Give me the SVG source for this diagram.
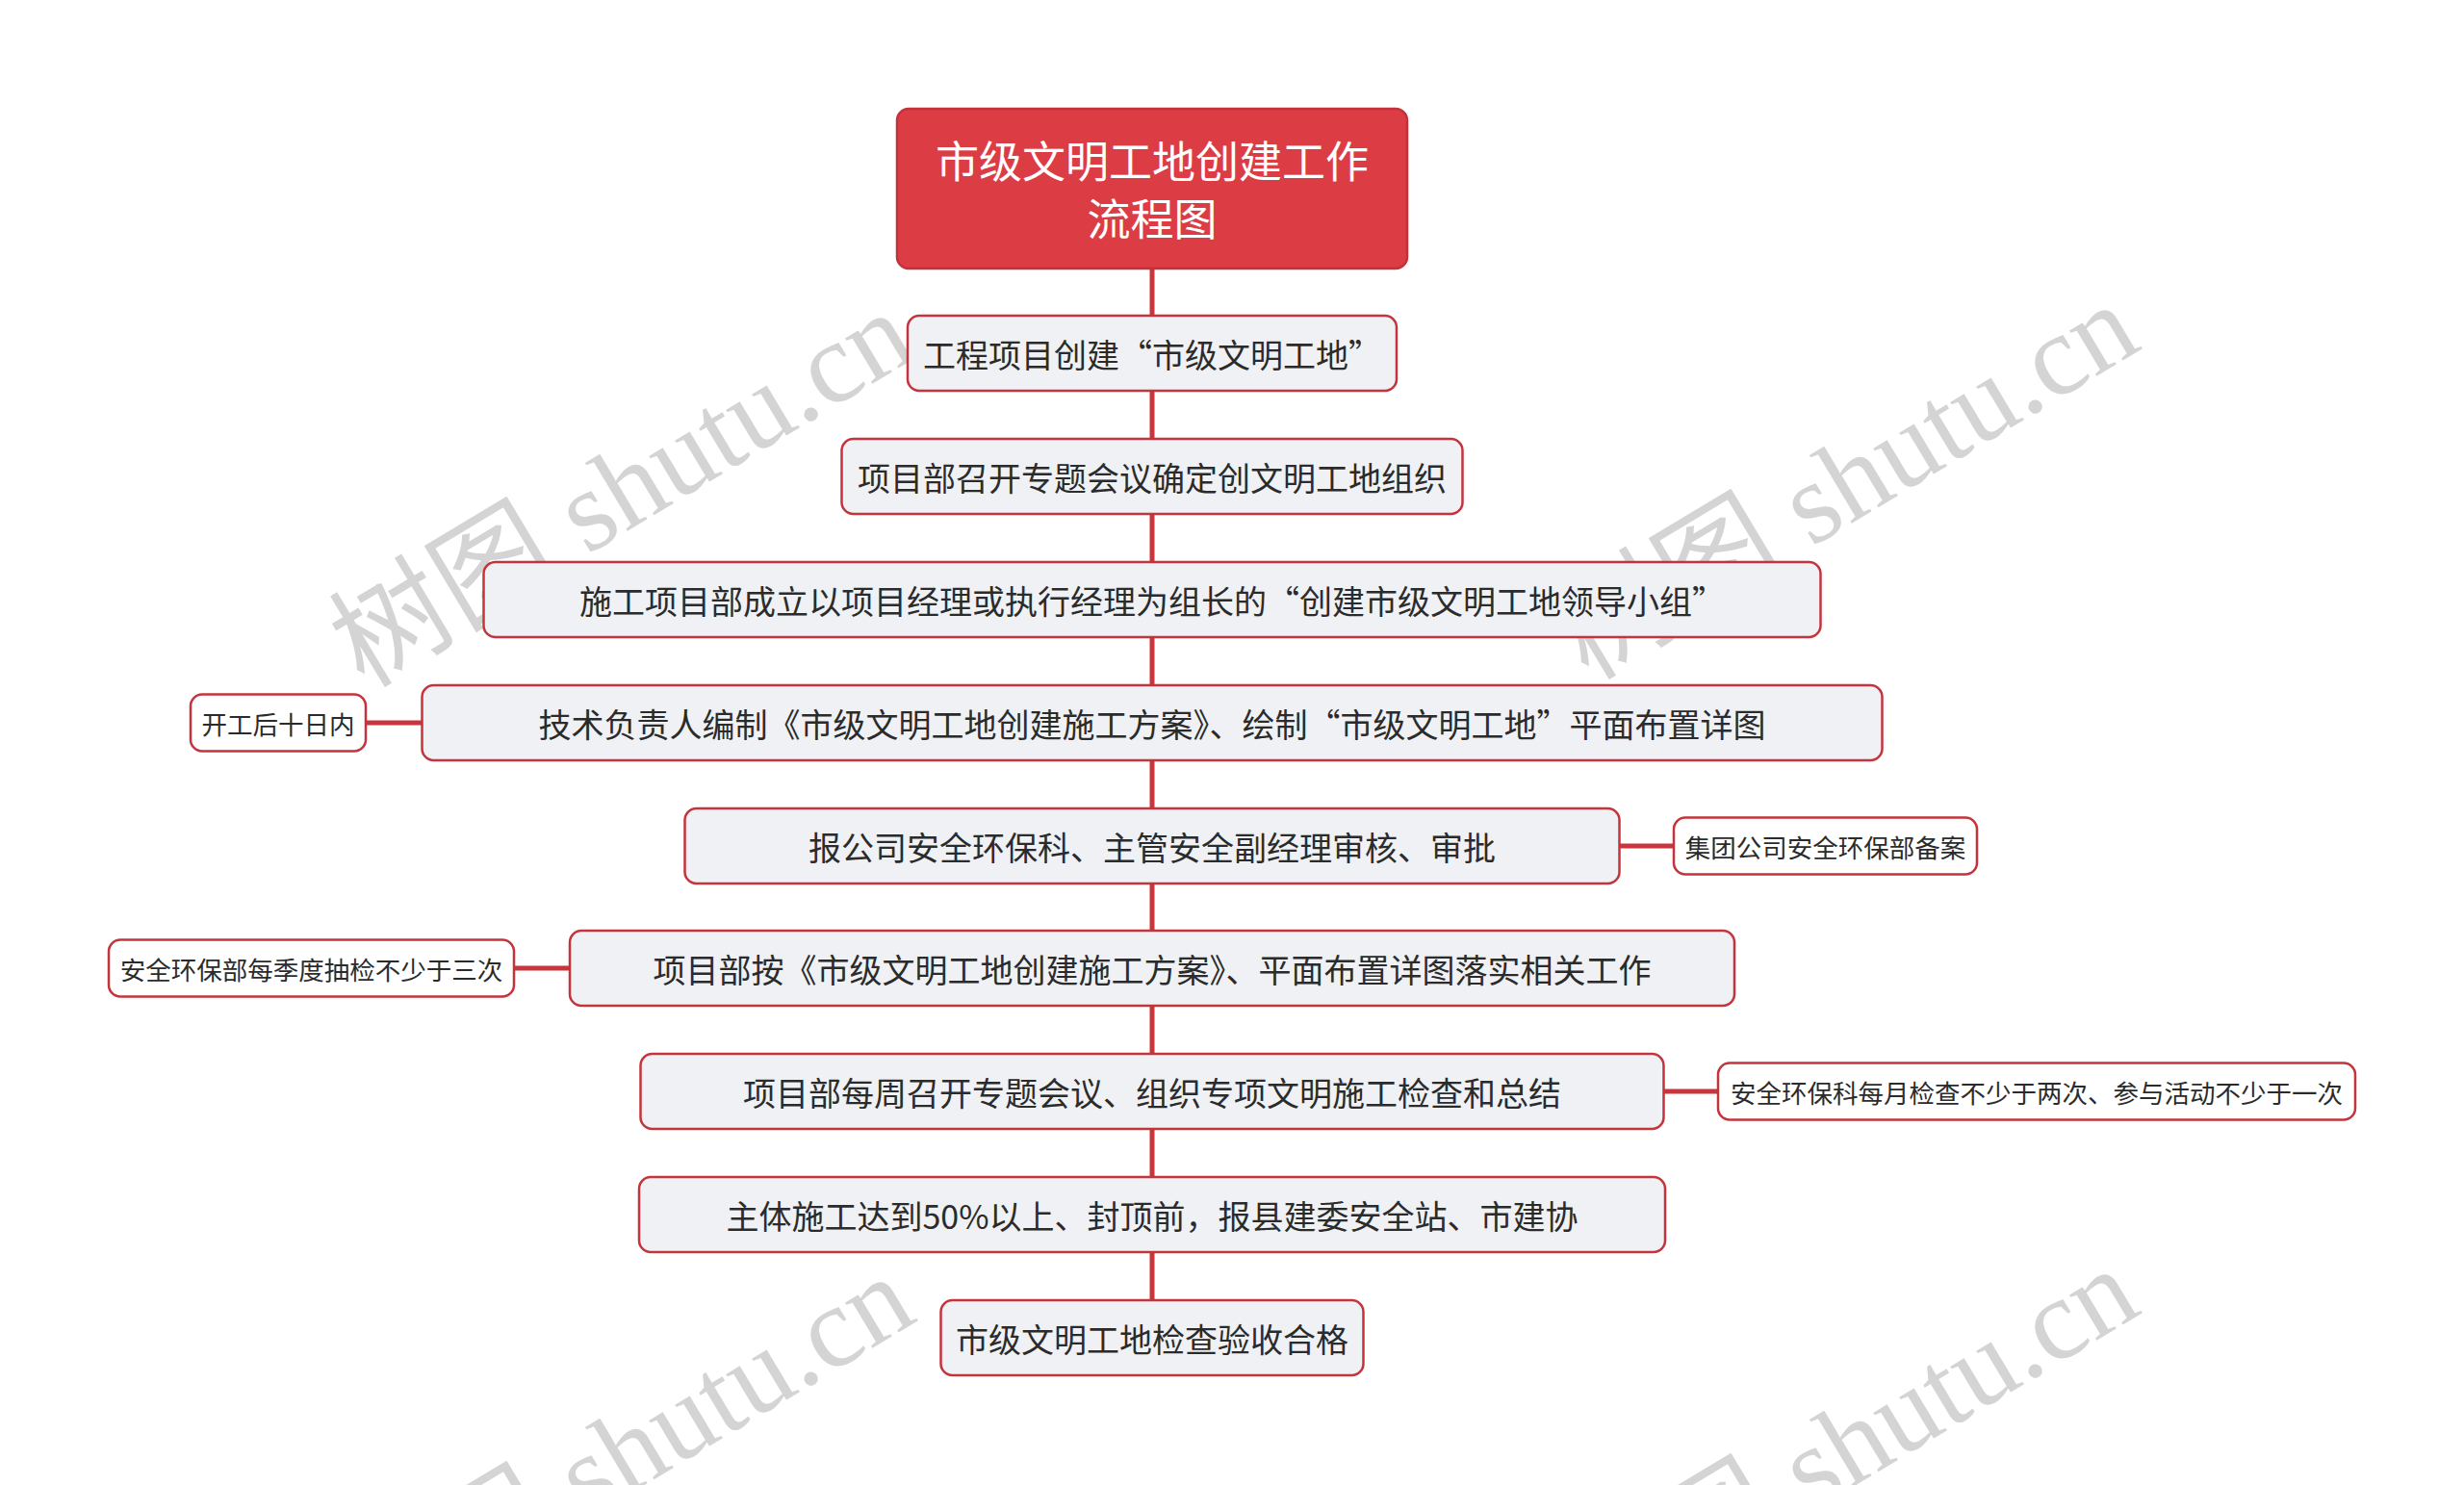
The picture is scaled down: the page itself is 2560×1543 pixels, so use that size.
<svg xmlns="http://www.w3.org/2000/svg" width="2560" height="1543" viewBox="0 0 2560 1543">
<style>
.bg{fill:#ffffff}
.wm{font-family:"Liberation Serif","Noto Sans CJK SC",serif;font-size:120px;fill:#d4d4d4}
.root rect{fill:#dc3d45;stroke:#c3323a;stroke-width:2.5}
.root text{font-family:"Noto Sans CJK SC","Noto Sans",sans-serif;font-size:45px;fill:#ffffff;text-anchor:middle;dominant-baseline:central}
.main rect{fill:#eff1f4;stroke:#c4343c;stroke-width:2.5}
.main text{font-family:"Noto Sans CJK SC","Noto Sans",sans-serif;font-size:34px;fill:#2b2b2b;text-anchor:middle;dominant-baseline:central}
.side rect{fill:#ffffff;stroke:#c4343c;stroke-width:2.5}
.side text{font-family:"Noto Sans CJK SC","Noto Sans",sans-serif;font-size:26.5px;fill:#2b2b2b;text-anchor:middle;dominant-baseline:central}
.conn{stroke:#c9353d;stroke-width:5;fill:none}
</style>
<rect class="bg" x="0" y="0" width="2560" height="1543"/>
<g id="watermarks">
<text class="wm" transform="translate(646,508) rotate(-31)" text-anchor="middle" dominant-baseline="central">树图 shutu.cn</text>
<text class="wm" transform="translate(1918,500) rotate(-31)" text-anchor="middle" dominant-baseline="central">树图 shutu.cn</text>
<text class="wm" transform="translate(646,1510) rotate(-31)" text-anchor="middle" dominant-baseline="central">树图 shutu.cn</text>
<text class="wm" transform="translate(1918,1502) rotate(-31)" text-anchor="middle" dominant-baseline="central">树图 shutu.cn</text>
</g>
<g id="connectors">
<line class="conn" x1="1197" y1="279" x2="1197" y2="1351"/>
<line class="conn" x1="380" y1="751" x2="438.5" y2="751"/>
<line class="conn" x1="1682.5" y1="879" x2="1739" y2="879"/>
<line class="conn" x1="534" y1="1006" x2="592" y2="1006"/>
<line class="conn" x1="1728.5" y1="1134" x2="1785" y2="1134"/>
</g>
<g id="root" class="root">
<rect x="932" y="113" width="530" height="166" rx="12"/>
<text x="1197" y="165">市级文明工地创建工作</text>
<text x="1197" y="225">流程图</text>
</g>
<g id="n1" class="main"><rect x="943" y="328" width="508" height="78" rx="12"/><text x="1197" y="367">工程项目创建“市级文明工地”</text></g>
<g id="n2" class="main"><rect x="874.5" y="456" width="645" height="78" rx="12"/><text x="1197" y="495">项目部召开专题会议确定创文明工地组织</text></g>
<g id="n3" class="main"><rect x="502.5" y="584" width="1389" height="78" rx="12"/><text x="1197" y="623">施工项目部成立以项目经理或执行经理为组长的“创建市级文明工地领导小组”</text></g>
<g id="n4" class="main"><rect x="438.5" y="712" width="1517" height="78" rx="12"/><text x="1197" y="751">技术负责人编制《市级文明工地创建施工方案》、绘制“市级文明工地”平面布置详图</text></g>
<g id="n5" class="main"><rect x="711.5" y="840" width="971" height="78" rx="12"/><text x="1197" y="879">报公司安全环保科、主管安全副经理审核、审批</text></g>
<g id="n6" class="main"><rect x="592" y="967" width="1210" height="78" rx="12"/><text x="1197" y="1006">项目部按《市级文明工地创建施工方案》、平面布置详图落实相关工作</text></g>
<g id="n7" class="main"><rect x="665.5" y="1095" width="1063" height="78" rx="12"/><text x="1197" y="1134">项目部每周召开专题会议、组织专项文明施工检查和总结</text></g>
<g id="n8" class="main"><rect x="664" y="1223" width="1066" height="78" rx="12"/><text x="1197" y="1262">主体施工达到50%以上、封顶前，报县建委安全站、市建协</text></g>
<g id="n9" class="main"><rect x="977.5" y="1351" width="439" height="78" rx="12"/><text x="1197" y="1390">市级文明工地检查验收合格</text></g>
<g id="s1" class="side"><rect x="198" y="721.5" width="182" height="59" rx="12"/><text x="289" y="751">开工后十日内</text></g>
<g id="s2" class="side"><rect x="1739" y="849.5" width="315" height="59" rx="12"/><text x="1896.5" y="879">集团公司安全环保部备案</text></g>
<g id="s3" class="side"><rect x="113" y="976.5" width="421" height="59" rx="12"/><text x="323.5" y="1006">安全环保部每季度抽检不少于三次</text></g>
<g id="s4" class="side"><rect x="1785" y="1104.5" width="662" height="59" rx="12"/><text x="2116" y="1134">安全环保科每月检查不少于两次、参与活动不少于一次</text></g>
</svg>
